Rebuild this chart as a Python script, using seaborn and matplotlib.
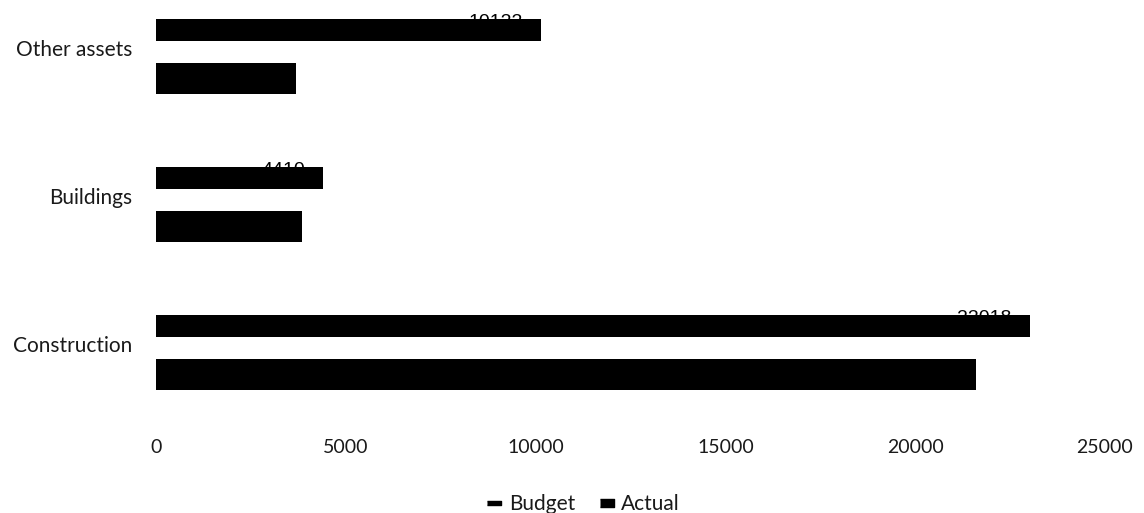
import matplotlib
matplotlib.use("Agg")
import matplotlib.pyplot as plt
import matplotlib.transforms as mtransforms
from matplotlib.lines import Line2D
import pandas as pd
import seaborn as sns

# Capital expenditure by asset class
categories = ["Other assets", "Buildings", "Construction"]
series = ["Budget", "Actual"]
budget = [10133, 4410, 23018]
actual = [3700, 3850, 21600]
x_ticks = [0, 5000, 10000, 15000, 20000, 25000]

df = pd.DataFrame({
    "category": categories * 2,
    "series": ["Budget"] * len(categories) + ["Actual"] * len(categories),
    "value": budget + actual,
})

sns.set_theme(style="white")
plt.rcParams["font.family"] = ["Lato", "DejaVu Sans"]

W, H = 1144, 513
band_px = 148.0          # pixel height of one category band
axes_h_px = 425.0
fig = plt.figure(figsize=(W / 100, H / 100), dpi=100)
ax = fig.add_axes([156 / W, 1 - axes_h_px / H, (1105 - 156) / W, axes_h_px / H])

sns.barplot(data=df, x="value", y="category", hue="series",
            order=categories, hue_order=series, orient="h",
            palette=["black", "black"], width=0.507, gap=0,
            edgecolor="none", linewidth=0, legend=False, ax=ax)

# slim budget bars sit at the top of each pair, actual bars at the bottom
px = 1 / band_px
budget_h = 22 * px
actual_h = 31 * px
n = len(categories)
for i, p in enumerate(ax.patches[: 2 * n]):
    p.set_zorder(3)
    if i < n:
        p.set_height(budget_h)
    else:
        y0 = p.get_y() + p.get_height()
        p.set_y(y0 - actual_h)
        p.set_height(actual_h)

# budget value labels sit under the bar top edge, partly hidden by the bar
for i, p in enumerate(ax.patches[:n]):
    ax.annotate(f"{budget[i]}", xy=(budget[i], p.get_y()),
                xytext=(-13, -5.5), textcoords="offset points",
                ha="right", va="baseline", fontsize=14,
                family=["Liberation Sans", "DejaVu Sans"],
                color="black", zorder=2)

top = -56.5 / band_px
ax.set_xlim(0, 25000)
ax.set_ylim(top + axes_h_px / band_px, top)
ax.set_xticks(x_ticks)
ax.set_xticklabels([str(t) for t in x_ticks])
ax.set_xlabel("")
ax.set_ylabel("")
for s in ax.spines.values():
    s.set_visible(False)
ax.tick_params(axis="x", length=0, pad=10, labelsize=14, labelcolor="#1a1a1a")
ax.tick_params(axis="y", length=0, pad=17, labelsize=15, labelcolor="#1a1a1a")
ax.grid(False)

# lift the category names slightly above the pair centre
off = mtransforms.ScaledTranslation(0, 8 / 100, fig.dpi_scale_trans)
for lab in ax.get_yticklabels():
    lab.set_transform(lab.get_transform() + off)

handles = [
    Line2D([], [], linestyle="none", color="black",
           marker=[(-1, -0.35), (1, -0.35), (1, 0.35), (-1, 0.35)],
           markersize=10, label="Budget"),
    Line2D([], [], linestyle="none", color="black",
           marker=[(-1, -0.6), (1, -0.6), (1, 0.6), (-1, 0.6)],
           markersize=10, label="Actual"),
]
fig.legend(handles=handles, loc="center", bbox_to_anchor=(583 / W, 1 - 504 / H),
           ncol=2, frameon=False, fontsize=15, handlelength=0.8,
           handletextpad=0.3, columnspacing=1.1, labelcolor="#1a1a1a")

fig.savefig("out.png", dpi=100)
